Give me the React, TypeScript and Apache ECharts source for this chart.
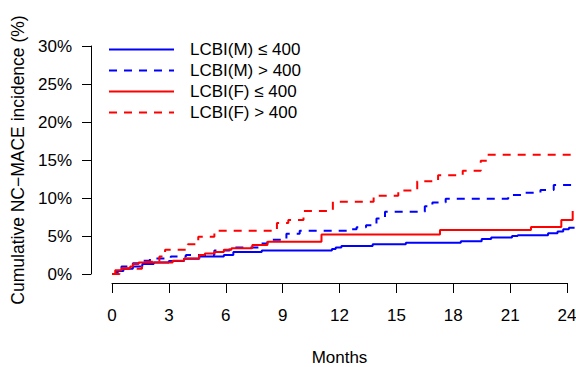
import React, { useEffect, useRef } from "react";
import * as echarts from "echarts";

// Months (x) and cumulative incidence in % (y) for each step curve
const mLowMonths = [0, 0.3, 0.6, 1.1, 1.6, 2.2, 3.0, 3.8, 4.6, 5.9, 6.4, 7.9, 11.6, 11.8, 12.1, 13.75, 15.5, 18.4, 19.5, 20.0, 21.1, 21.4, 23.0, 23.5, 23.8, 24.1, 24.4];
const mLowPct = [0, 0.4, 0.7, 1.0, 1.3, 1.5, 1.7, 2.0, 2.3, 2.5, 2.9, 3.1, 3.3, 3.5, 3.7, 3.9, 4.1, 4.3, 4.6, 4.8, 5.0, 5.1, 5.35, 5.6, 5.9, 6.1, 6.1];

const mHighMonths = [0, 0.25, 0.5, 1.1, 1.5, 2.0, 3.1, 3.9, 5.4, 6.2, 7.8, 8.2, 9.2, 9.9, 12.5, 12.9, 13.4, 13.95, 14.4, 16.5, 16.9, 17.6, 20.9, 21.8, 22.6, 23.3, 24.4];
const mHighPct = [0, 0.5, 1.0, 1.4, 1.75, 2.05, 2.3, 2.5, 3.1, 3.5, 4.0, 4.5, 5.3, 5.7, 5.9, 6.15, 6.4, 7.3, 8.2, 8.9, 9.4, 9.9, 10.4, 10.7, 11.05, 11.7, 11.7];

const fLowMonths = [0, 0.17, 0.5, 0.96, 1.1, 1.4, 3.2, 3.8, 4.6, 4.9, 5.4, 5.9, 6.3, 7.4, 8.2, 11.05, 17.3, 22.1, 23.7, 24.3];
const fLowPct = [0, 0.5, 0.75, 1.0, 1.3, 1.5, 1.75, 2.05, 2.5, 2.7, 2.9, 3.2, 3.4, 3.8, 4.25, 5.2, 5.8, 6.2, 7.1, 8.3];

const fHighMonths = [0, 0.4, 1.58, 2.5, 2.8, 4.0, 4.55, 5.4, 8.7, 9.3, 10.1, 11.65, 13.8, 15.1, 16.1, 17.2, 18.5, 19.45, 19.8, 24.4];
const fHighPct = [0, 0.7, 1.6, 2.3, 3.2, 3.9, 4.9, 5.7, 6.7, 7.1, 8.3, 9.5, 10.3, 11.0, 12.2, 13.0, 13.6, 14.9, 15.7, 15.7];

const seriesNames = ["LCBI(M) \u2264 400", "LCBI(M) > 400", "LCBI(F) \u2264 400", "LCBI(F) > 400"];
const xTicks = [0, 24, 3];
const yTicks = [0, 30, 5];
const followUpMax = 24.4; // curves run slightly past the last labelled tick

const FONT = "'Liberation Sans', Arial, Helvetica, sans-serif";

function pairs(xs: number[], ys: number[]) {
  return xs.map((x, i) => [x, ys[i]]);
}

export default function App() {
  const ref = useRef<HTMLDivElement>(null);
  useEffect(() => {
    if (!ref.current) return;
    const chart = echarts.init(ref.current, undefined, { renderer: "svg" });
    const gridLeft = 112;
    const gridWidth = 455; // 0..24 months
    const dataWidth = (gridWidth * followUpMax) / xTicks[1];
    const mk = (name: string, data: number[][], color: string, dashed: boolean) => ({
      name,
      type: "line",
      step: "end",
      data,
      xAxisIndex: 1,
      yAxisIndex: 1,
      symbol: "none",
      showSymbol: false,
      clip: false,
      lineStyle: { color, width: 2, type: dashed ? [8, 7] : "solid" },
      itemStyle: { color },
    });
    chart.setOption({
      animation: false,
      textStyle: { fontFamily: FONT },
      grid: [
        { left: gridLeft, width: gridWidth, top: 46, height: 228, outerBoundsMode: "none", containLabel: false },
        { left: gridLeft, width: dataWidth, top: 46, height: 228, outerBoundsMode: "none", containLabel: false },
      ],
      legend: {
        orient: "vertical",
        left: 103,
        top: 36,
        itemWidth: 65,
        itemHeight: 14,
        itemGap: 4,
        itemStyle: { opacity: 0 },
        textStyle: { fontFamily: FONT, fontSize: 17, color: "#000", padding: [0, 0, 0, 11] },
        data: seriesNames,
      },
      xAxis: [
        {
          type: "value",
          gridIndex: 0,
          min: xTicks[0],
          max: xTicks[1],
          interval: xTicks[2],
          offset: 9,
          name: "Months",
          nameLocation: "middle",
          nameGap: 66,
          nameTextStyle: { fontFamily: FONT, fontSize: 17, color: "#000" },
          axisLine: { show: true, onZero: false, lineStyle: { color: "#000", width: 1 } },
          axisTick: { show: true, length: 10, lineStyle: { color: "#000", width: 1 } },
          axisLabel: { margin: 24, fontFamily: FONT, fontSize: 17, color: "#000" },
          splitLine: { show: false },
        },
        {
          type: "value",
          gridIndex: 1,
          min: xTicks[0],
          max: followUpMax,
          show: false,
          splitLine: { show: false },
        },
      ],
      yAxis: [
        {
          type: "value",
          gridIndex: 0,
          min: yTicks[0],
          max: yTicks[1],
          interval: yTicks[2],
          offset: 21,
          name: "Cumulative NC\u2212MACE incidence (%)",
          nameLocation: "middle",
          nameRotate: 90,
          nameGap: 56,
          nameTextStyle: { fontFamily: FONT, fontSize: 17.5, color: "#000" },
          axisLine: { show: true, onZero: false, lineStyle: { color: "#000", width: 1 } },
          axisTick: { show: true, length: 9, lineStyle: { color: "#000", width: 1 } },
          axisLabel: { margin: 19, fontFamily: FONT, fontSize: 17, color: "#000", formatter: "{value}%" },
          splitLine: { show: false },
        },
        {
          type: "value",
          gridIndex: 1,
          min: yTicks[0],
          max: yTicks[1],
          show: false,
          splitLine: { show: false },
        },
      ],
      series: [
        mk(seriesNames[0], pairs(mLowMonths, mLowPct), "#0000ff", false),
        mk(seriesNames[1], pairs(mHighMonths, mHighPct), "#0000ff", true),
        mk(seriesNames[2], pairs(fLowMonths, fLowPct), "#ff0000", false),
        mk(seriesNames[3], pairs(fHighMonths, fHighPct), "#ff0000", true),
      ],
    });
    return () => chart.dispose();
  }, []);
  return (
    <div
      ref={ref}
      style={{ position: "fixed", left: 0, top: 0, width: 576, height: 367, background: "#fff" }}
    />
  );
}
